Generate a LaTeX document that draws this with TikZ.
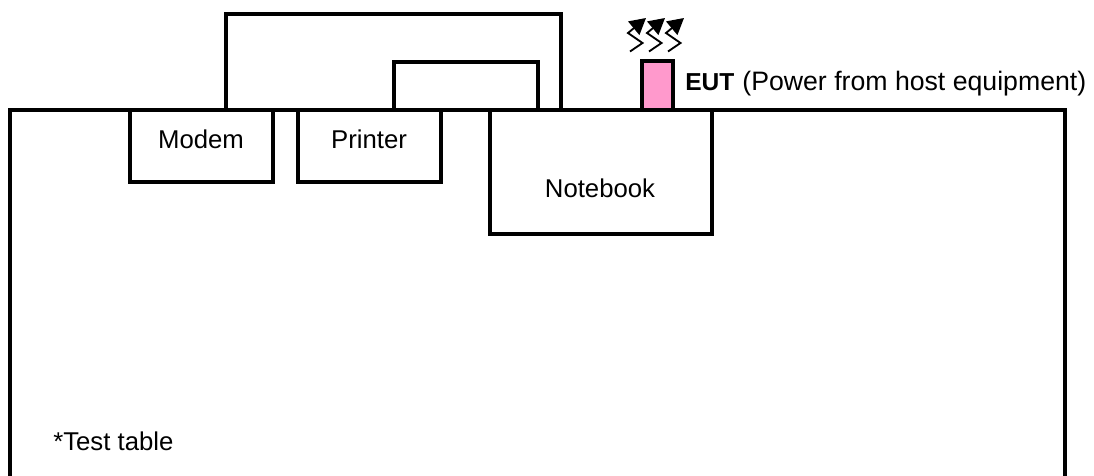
\documentclass[tikz,border=0pt]{standalone}
\usepackage{fontspec}
\setmainfont{Liberation Sans}
\usetikzlibrary{arrows.meta}
\definecolor{eutpink}{HTML}{FF99CC}
\tikzset{
  px/.style={x=0.75pt,y=-0.75pt},
  wire/.style={draw=black,line width=3pt,line join=miter},
  boxnode/.style={wire,rectangle,inner sep=0pt,outer sep=0pt,anchor=north west},
  label/.style={font=\fontsize{19.3}{22}\selectfont,text=black,inner sep=0pt,anchor=base},
  zig/.style={draw=black,line width=1.4pt,-{Triangle[length=12pt,width=13pt]}}
}
\begin{document}
\begin{tikzpicture}[px]
\useasboundingbox (0,0) rectangle (1094,475);
\coordinate (tl) at (10,110);
\coordinate (tr) at (1065,110);
\coordinate (bl) at (10,476);
\coordinate (br) at (1065,476);
\draw[wire] (bl) -- (tl) -- (tr) -- (br);
\node[boxnode,minimum width=107.6pt,minimum height=54pt] (modem) at (129.5,110) {};
\node[boxnode,minimum width=107.6pt,minimum height=54pt] (printer) at (298,110) {};
\node[boxnode,fill=white,minimum width=166.5pt,minimum height=93pt] (notebook) at (490,110) {};
\node[label] (modemt) at (201,148.7) {Modem};
\node[label] (printert) at (369,148.7) {Printer};
\node[label] (notebookt) at (600,197.7) {Notebook};
\node[label,anchor=base west] (tablet) at (53,450) {*Test table};
\coordinate (a1) at (226,110);
\coordinate (a2) at (226,14);
\coordinate (a3) at (561,14);
\coordinate (a4) at (561,110);
\draw[wire] (a1) -- (a2) -- (a3) -- (a4);
\coordinate (b1) at (394,110);
\coordinate (b2) at (394,62);
\coordinate (b3) at (538,62);
\coordinate (b4) at (538,110);
\draw[wire] (b1) -- (b2) -- (b3) -- (b4);
\node[boxnode,fill=eutpink,minimum width=23.25pt,minimum height=37pt] (eut) at (642,61) {};
\node[label,font=\fontsize{20}{22}\selectfont,anchor=base west] (eutt) at (685,90) {\textbf{\fontsize{18.4}{20}\selectfont EUT}\hspace{0.5pt} (Power from host equipment)};
\foreach \d/\n in {0/z1,19/z2,38/z3}{
  \coordinate (\n a) at ({630+\d},51.5);
  \coordinate (\n b) at ({642.5+\d},43);
  \coordinate (\n c) at ({628+\d},33);
  \coordinate (\n d) at ({646+\d},18);
  \draw[zig] (\n a) -- (\n b) -- (\n c) -- (\n d);
}
\end{tikzpicture}
\end{document}
